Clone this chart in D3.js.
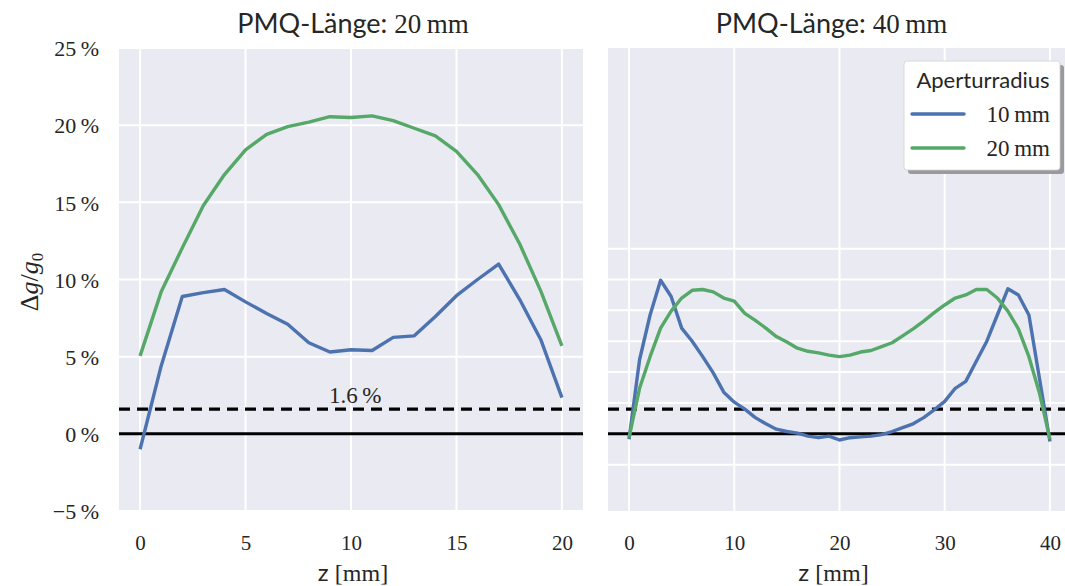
<!DOCTYPE html>
<html>
<head>
<meta charset="utf-8">
<script src="https://cdn.jsdelivr.net/npm/d3@7"></script>
<style>
  html, body { margin: 0; padding: 0; background: #fff; }
  svg { display: block; }
  .serif { font-family: "Liberation Serif", "DejaVu Serif", serif; }
  .sans { font-family: "Lato", "Noto Sans", sans-serif; }
</style>
</head>
<body>
<svg id="chart" width="1065" height="586"></svg>
<script>
// Δg/g0 in percent along z, for two PMQ lengths and two aperture radii
const zShort = d3.range(0, 21);            // 20 mm magnet, 1 mm steps
const shortR10 = [-1.0, 4.4, 8.9, 9.15, 9.35, 8.55, 7.8, 7.1, 5.9, 5.3, 5.45, 5.4, 6.25, 6.35, 7.6, 8.95, 10.0, 11.0, 8.7, 6.1, 2.35];
const shortR20 = [5.05, 9.2, 12.05, 14.8, 16.8, 18.4, 19.4, 19.9, 20.2, 20.55, 20.5, 20.6, 20.3, 19.8, 19.3, 18.3, 16.8, 14.85, 12.3, 9.25, 5.7];

const zLong = d3.range(0, 41);             // 40 mm magnet, 1 mm steps
const longR10 = [-0.35, 4.8, 7.7, 9.95, 8.9, 6.85, 6.0, 5.0, 3.95, 2.7, 2.05, 1.6, 1.05, 0.65, 0.3, 0.15, 0.05, -0.15, -0.25, -0.15, -0.4, -0.25, -0.2, -0.15, -0.05, 0.15, 0.4, 0.65, 1.05, 1.55, 2.1, 2.95, 3.4, 4.7, 6.0, 7.7, 9.4, 9.0, 7.7, 3.6, -0.5];
const longR20 = [-0.25, 2.95, 5.0, 6.85, 7.95, 8.8, 9.3, 9.35, 9.2, 8.8, 8.6, 7.8, 7.35, 6.85, 6.3, 5.95, 5.55, 5.35, 5.25, 5.1, 5.0, 5.1, 5.3, 5.4, 5.65, 5.9, 6.35, 6.8, 7.3, 7.85, 8.35, 8.8, 9.0, 9.35, 9.35, 8.8, 7.95, 6.8, 5.0, 2.65, -0.35];

const threshold = 1.6;                     // acceptance limit in %
const titles = ["20", "40"];               // PMQ length in mm
const radii = ["10", "20"];                // aperture radius in mm
const colors = ["#4c72b0", "#55a868"];
const yTicksLeft = [-5, 0, 5, 10, 15, 20, 25];
const yGridRight = [-2, 0, 2, 4, 6, 8, 10, 12];
const xTicksShort = [0, 5, 10, 15, 20];
const xTicksLong = [0, 10, 20, 30, 40];

const svg = d3.select("#chart");
const plotTop = 48, plotBottom = 511;
const y = d3.scaleLinear().domain([-5, 25]).range([plotBottom, plotTop]);

const panels = [
  { left: 119, width: 464, domain: [-1, 21], z: zShort, series: [shortR10, shortR20], xTicks: xTicksShort, yGrid: yTicksLeft, title: titles[0], label: true },
  { left: 608, width: 463, domain: [-2, 42], z: zLong, series: [longR10, longR20], xTicks: xTicksLong, yGrid: yGridRight, title: titles[1], label: false }
];

panels.forEach((p, i) => {
  const x = d3.scaleLinear().domain(p.domain).range([p.left, p.left + p.width]);
  const g = svg.append("g");
  const clipId = "clip" + i;
  svg.append("clipPath").attr("id", clipId)
    .append("rect").attr("x", p.left).attr("y", plotTop).attr("width", p.width).attr("height", plotBottom - plotTop);

  g.append("rect").attr("x", p.left).attr("y", plotTop)
    .attr("width", p.width).attr("height", plotBottom - plotTop).attr("fill", "#eaeaf2");

  // grid
  g.selectAll(".vg").data(p.xTicks).join("line")
    .attr("x1", d => x(d)).attr("x2", d => x(d)).attr("y1", plotTop).attr("y2", plotBottom)
    .attr("stroke", "#fff").attr("stroke-width", 2);
  g.selectAll(".hg").data(p.yGrid).join("line")
    .attr("x1", p.left).attr("x2", p.left + p.width).attr("y1", d => y(d)).attr("y2", d => y(d))
    .attr("stroke", "#fff").attr("stroke-width", 2);

  const plot = g.append("g").attr("clip-path", `url(#${clipId})`);

  // reference lines
  plot.append("line").attr("x1", p.left).attr("x2", p.left + p.width)
    .attr("y1", y(0)).attr("y2", y(0)).attr("stroke", "#000").attr("stroke-width", 3);
  plot.append("line").attr("x1", p.left).attr("x2", p.left + p.width)
    .attr("y1", y(threshold)).attr("y2", y(threshold)).attr("stroke", "#000")
    .attr("stroke-width", 3.2).attr("stroke-dasharray", "11,7");

  const line = d3.line().x((d, k) => x(p.z[k])).y(d => y(d));
  p.series.forEach((s, k) => {
    plot.append("path").datum(s).attr("d", line)
      .attr("fill", "none").attr("stroke", colors[k]).attr("stroke-width", 3.4)
      .attr("stroke-linejoin", "round").attr("stroke-linecap", "butt");
  });

  // x axis labels
  const xAxis = d3.axisBottom(x).tickValues(p.xTicks).tickSize(0).tickPadding(0).tickFormat(d3.format("d"));
  const xa = g.append("g").attr("transform", `translate(0,${plotBottom + 32})`).call(xAxis);
  xa.select(".domain").remove();
  xa.selectAll("text").attr("class", "serif").attr("font-size", 21).attr("fill", "#262626")
    .attr("dy", "0.35em").attr("font-family", null);

  const cx = p.left + p.width / 2;
  const xl = g.append("text").attr("x", i === 0 ? cx + 2 : cx - 6).attr("y", 581).attr("text-anchor", "middle")
    .attr("font-size", 24).attr("fill", "#262626");
  xl.append("tspan").attr("class", "sans").text("z ");
  xl.append("tspan").attr("class", "serif").text("[mm]");

  const t = g.append("text").attr("x", i === 0 ? cx + 2 : cx - 8).attr("y", 33).attr("text-anchor", "middle")
    .attr("font-size", 27).attr("fill", "#262626");
  t.append("tspan").attr("class", "sans").text("PMQ-Länge: ");
  t.append("tspan").attr("class", "serif").text(p.title + "\u2009mm");

  if (p.label) {
    plot.append("text").attr("class", "serif").attr("x", x(10.2)).attr("y", y(threshold) - 6)
      .attr("text-anchor", "middle").attr("font-size", 23).attr("fill", "#262626")
      .text(threshold + "\u2009%");
  }
});

// y axis on the left panel
const yAxis = d3.axisLeft(y).tickValues(yTicksLeft).tickSize(0).tickPadding(0)
  .tickFormat(d => (d < 0 ? "\u2212" + Math.abs(d) : d) + "\u2009%");
const ya = svg.append("g").attr("transform", "translate(99,0)").call(yAxis);
ya.select(".domain").remove();
ya.selectAll("text").attr("class", "serif").attr("font-size", 22).attr("fill", "#262626")
  .attr("dy", "0.35em").attr("font-family", null);

const yl = svg.append("text").attr("class", "serif").attr("transform", "translate(38,282) rotate(-90)")
  .attr("text-anchor", "middle").attr("font-size", 26).attr("fill", "#262626");
yl.append("tspan").text("Δ");
yl.append("tspan").attr("font-style", "italic").text("g");
yl.append("tspan").text("/");
yl.append("tspan").attr("font-style", "italic").text("g");
yl.append("tspan").attr("font-size", 17).attr("dy", 5).text("0");

// legend
const lg = svg.append("g").attr("transform", "translate(904,61)");
lg.append("rect").attr("x", 4).attr("y", 4).attr("width", 156).attr("height", 109).attr("rx", 3)
  .attr("fill", "#9a9a9e");
lg.append("rect").attr("width", 156).attr("height", 109).attr("rx", 3)
  .attr("fill", "#fff").attr("stroke", "#d0d0d0").attr("stroke-width", 0.8);
lg.append("text").attr("class", "sans").attr("x", 79).attr("y", 27).attr("text-anchor", "middle")
  .attr("font-size", 22).attr("fill", "#262626").text("Aperturradius");
radii.forEach((r, k) => {
  const yy = 53 + k * 34;
  lg.append("line").attr("x1", 8).attr("x2", 60).attr("y1", yy).attr("y2", yy)
    .attr("stroke", colors[k]).attr("stroke-width", 3.4).attr("stroke-linecap", "round");
  lg.append("text").attr("class", "serif").attr("x", 146).attr("y", yy).attr("dy", "0.35em")
    .attr("text-anchor", "end").attr("font-size", 23).attr("fill", "#262626").text(r + "\u2009mm");
});
</script>
</body>
</html>
